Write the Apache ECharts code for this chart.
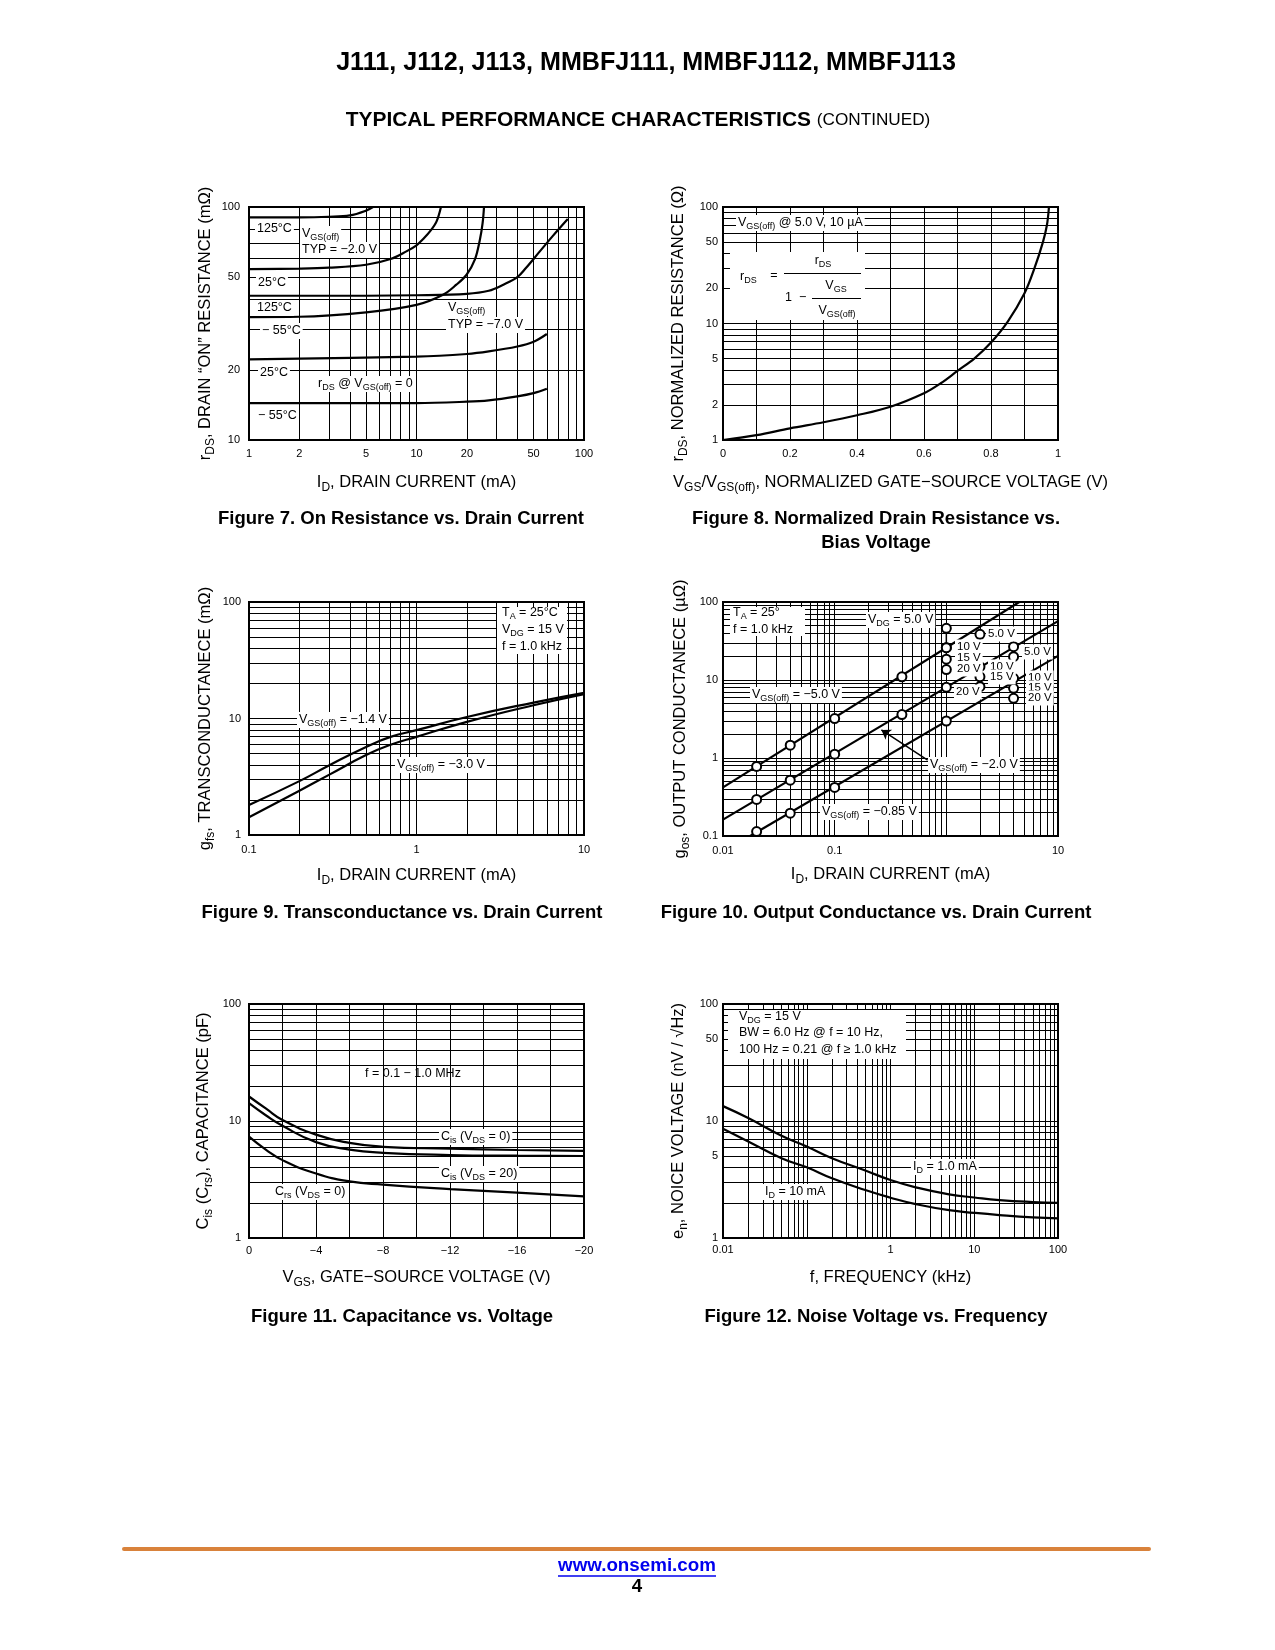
<!DOCTYPE html>
<html>
<head>
<meta charset="utf-8">
<title>J111 Typical Performance Characteristics</title>
<script src="https://cdn.jsdelivr.net/npm/echarts@6.0.0/dist/echarts.min.js"></script>
<style>
html,body{margin:0;padding:0;background:#fff;}
#chart{width:1275px;height:1650px;}
</style>
</head>
<body>
<div id="chart"></div>
<script>
// ===================== DATA =====================
// Figure 7 - On Resistance vs. Drain Current (ID mA, rDS mOhm)
const fig7XTicks = [1, 2, 5, 10, 20, 50, 100];
const fig7YTicks = [10, 20, 50, 100];
const fig7_125C_2V_id = [1, 2, 3, 4, 5, 5.5];
const fig7_125C_2V_r  = [90.3, 90.3, 90.8, 92.0, 96.5, 100];
const fig7_25C_2V_id  = [1, 2, 3, 5, 7, 8.7, 10, 11, 12.2, 13.2, 14];
const fig7_25C_2V_r   = [54.1, 54.4, 54.9, 56.5, 59.8, 64.5, 68.5, 73, 79.5, 87, 100];
const fig7_m55C_2V_id = [1, 2, 5, 10, 14.4, 17.3, 19.9, 22.3, 23.9, 24.8, 25.3];
const fig7_m55C_2V_r  = [33.7, 33.8, 35.3, 38.0, 42.0, 46.4, 51.2, 59.4, 72.4, 85, 100];
const fig7_125C_7V_id = [1, 5, 10, 20, 27, 33, 40, 45, 54, 65, 80];
const fig7_125C_7V_r  = [41.6, 41.6, 41.8, 42.4, 43.7, 46.4, 50, 54.7, 64, 75, 88.8];
const fig7_25C_7V_id  = [1, 10, 20, 27, 40, 50, 60];
const fig7_25C_7V_r   = [22.2, 22.8, 23.4, 24.0, 25.2, 26.4, 28.5];
const fig7_m55C_7V_id = [1, 10, 20, 27, 40, 50, 60];
const fig7_m55C_7V_r  = [14.4, 14.4, 14.6, 14.8, 15.4, 15.9, 16.6];

// Figure 8 - Normalized Drain Resistance vs. Bias Voltage
const fig8XTicks = [0, 0.2, 0.4, 0.6, 0.8, 1];
const fig8YTicks = [1, 2, 5, 10, 20, 50, 100];
const fig8_vn  = [0, 0.1, 0.2, 0.3, 0.4, 0.5, 0.6, 0.65, 0.7, 0.75, 0.8, 0.85, 0.9, 0.93, 0.955, 0.967, 0.973];
const fig8_rds = [1, 1.10, 1.26, 1.42, 1.63, 1.93, 2.52, 3.07, 3.92, 5.0, 6.87, 10.4, 18.2, 30, 50, 70, 100];

// Figure 9 - Transconductance vs. Drain Current
const fig9XTicks = [0.1, 1, 10];
const fig9YTicks = [1, 10, 100];
const fig9_id      = [0.1, 0.2, 0.3, 0.5, 0.7, 1, 2, 5, 10];
const fig9_gfs_1p4 = [1.81, 2.90, 3.95, 5.7, 6.95, 7.94, 10.3, 13.7, 16.6];
const fig9_gfs_3p0 = [1.42, 2.40, 3.28, 4.85, 5.95, 6.96, 9.36, 13.0, 16.2];

// Figure 10 - Output Conductance vs. Drain Current
const fig10XTicks = [0.01, 0.1, 10];
const fig10YTicks = [0.1, 1, 10, 100];
const fig10_5V_lineId   = [0.01, 4.5];
const fig10_5V_lineG    = [0.42, 100];
const fig10_2V_lineId   = [0.01, 10];
const fig10_2V_lineG    = [0.162, 56.8];
const fig10_085V_lineId = [0.0175, 10];
const fig10_085V_lineG  = [0.1, 20.4];
const fig10_5V_ptId   = [0.02, 0.04, 0.1, 0.4, 1];
const fig10_5V_ptG    = [0.78, 1.46, 3.2, 11.0, 26];
const fig10_2V_ptId   = [0.02, 0.04, 0.1, 0.4, 1];
const fig10_2V_ptG    = [0.294, 0.52, 1.12, 3.6, 8.05];
const fig10_085V_ptId = [0.02, 0.04, 0.1, 1];
const fig10_085V_ptG  = [0.114, 0.196, 0.42, 2.98];
const fig10_grpA_id = [1, 1, 1, 1];
const fig10_grpA_g  = [46, 26, 18.5, 13.6];
const fig10_grpB_id = [2, 2, 2, 2];
const fig10_grpB_g  = [38.5, 14.8, 11.0, 8.2];
const fig10_grpC_id = [4, 4, 4, 4, 4];
const fig10_grpC_g  = [26.7, 19.9, 10.5, 7.83, 5.82];
const fig10_arrowFrom = [0.68, 0.94];
const fig10_arrowTo   = [0.262, 2.29];

// Figure 11 - Capacitance vs. Voltage
const fig11XTicks = [0, -4, -8, -12, -16, -20];
const fig11YTicks = [1, 10, 100];
const fig11_vgs   = [0, -1, -2, -4, -6, -8, -12, -16, -20];
const fig11_cis0  = [16.2, 12.8, 10.2, 7.65, 6.5, 6.02, 5.8, 5.65, 5.55];
const fig11_cis20 = [14.2, 11.2, 9.1, 6.6, 5.7, 5.35, 5.12, 5.05, 5.02];
const fig11_crs0  = [7.35, 5.7, 4.63, 3.56, 3.05, 2.86, 2.62, 2.44, 2.27];

// Figure 12 - Noise Voltage vs. Frequency
const fig12XTicks = [0.01, 1, 10, 100];
const fig12YTicks = [1, 5, 10, 50, 100];
const fig12_f     = [0.01, 0.02, 0.05, 0.1, 0.2, 0.5, 1, 2, 5, 10, 20, 50, 100];
const fig12_en1mA  = [13.4, 10.6, 7.48, 6.06, 4.81, 3.77, 3.13, 2.71, 2.36, 2.22, 2.11, 2.03, 2.0];
const fig12_en10mA = [8.59, 6.69, 4.81, 4.02, 3.24, 2.57, 2.21, 1.95, 1.73, 1.64, 1.57, 1.50, 1.47];

// ===================== HELPERS =====================
const FONT = '"Liberation Sans", Arial, Helvetica, sans-serif';
const NARROW = '"Liberation Sans Narrow", "Arial Narrow", "Liberation Sans", Arial, sans-serif';

function richE(F) {
  const L = Math.round(F * 1.3), S = Math.round(F * 0.72), H = Math.round(F * 0.6);
  return {
    n: { fontSize: F, fontFamily: FONT, color: '#000', lineHeight: L },
    s: { fontSize: S, fontFamily: FONT, color: '#000', lineHeight: L, height: H, verticalAlign: 'bottom' }
  };
}
function richZ(F, bold) {
  const L = Math.round(F * 1.3), S = Math.round(F * 0.72), H = Math.round(F * 0.6);
  const w = bold ? 'bold' : 'normal';
  return {
    n: { fontSize: F, fontFamily: FONT, fontWeight: w, fill: '#000', lineHeight: L },
    s: { fontSize: S, fontFamily: FONT, fontWeight: w, fill: '#000', lineHeight: L, height: H, verticalAlign: 'bottom' }
  };
}
function T(x, y, text, o) {
  o = o || {};
  const F = o.size || 12.5;
  const st = {
    text: text,
    font: (o.bold ? 'bold ' : '') + F + 'px ' + FONT,
    fill: '#000',
    align: o.align || 'left',
    verticalAlign: 'middle',
    lineHeight: Math.round(F * 1.3),
    rich: o.rich || richZ(F, o.bold)
  };
  if (o.bg) { st.backgroundColor = '#fff'; st.padding = [0, 2, 0, 2]; }
  return { type: 'text', x: x, y: y, z: o.z || 50, silent: true, style: st };
}
function Ln(x1, y1, x2, y2, w, col) {
  return { type: 'line', z: 51, silent: true, shape: { x1: x1, y1: y1, x2: x2, y2: y2 },
    style: { stroke: col || '#000', lineWidth: w || 1 } };
}
function Rc(x, y, w, h) {
  return { type: 'rect', z: 45, silent: true, shape: { x: x, y: y, width: w, height: h }, style: { fill: '#fff' } };
}
function logLines(a, b) {
  const out = [];
  for (let e = a; e < b; e++) {
    for (let k = 1; k < 10; k++) {
      if (e === a && k === 1) continue;
      out.push(+(k * Math.pow(10, e)).toPrecision(6));
    }
  }
  return out;
}
function linLines(min, max, step) {
  const out = [];
  for (let v = min + step; v < max - step / 2; v += step) out.push(+v.toFixed(6));
  return out;
}
function gridSeries(i, xs, ys) {
  return {
    type: 'line', xAxisIndex: i, yAxisIndex: i, data: [], silent: true, animation: false,
    markLine: {
      silent: true, animation: false, symbol: ['none', 'none'], label: { show: false },
      lineStyle: { color: '#000', width: 1, type: 'solid', opacity: 1 },
      emphasis: { disabled: true },
      data: xs.map(v => ({ xAxis: v })).concat(ys.map(v => ({ yAxis: v })))
    }
  };
}
function curve(i, xs, ys, smooth, width) {
  return {
    type: 'line', xAxisIndex: i, yAxisIndex: i,
    data: xs.map((x, k) => [x, ys[k]]),
    symbol: 'none', showSymbol: false,
    smooth: smooth === undefined ? 0.5 : smooth,
    lineStyle: { color: '#000', width: width || 2.2 }, itemStyle: { color: '#000' },
    z: 8, silent: true, animation: false
  };
}
function markers(i, xs, ys) {
  return {
    type: 'scatter', xAxisIndex: i, yAxisIndex: i,
    data: xs.map((x, k) => [x, ys[k]]),
    symbol: 'circle', symbolSize: 9,
    itemStyle: { color: '#fff', borderColor: '#000', borderWidth: 2, opacity: 1 },
    z: 10, silent: true, animation: false
  };
}
function fmt(v) {
  if (Math.abs(v) < 1e-12) return '0';
  const r = +(+v).toPrecision(4);
  return r < 0 ? '\u2212' + Math.abs(r) : String(r);
}
const NAME_F = 16.5;
function axis(i, type, min, max, ticks, name, gap, margin, extra) {
  return Object.assign({
    gridIndex: i, type: type, min: min, max: max,
    axisLine: { show: false }, axisTick: { show: false }, splitLine: { show: false },
    minorTick: { show: false }, minorSplitLine: { show: false },
    axisLabel: { customValues: ticks, formatter: fmt, color: '#000', fontSize: 11, fontFamily: FONT, margin: margin },
    name: name, nameLocation: 'middle', nameGap: gap, nameMoveOverlap: false,
    nameTextStyle: { fontSize: NAME_F, fontFamily: FONT, color: '#000', lineHeight: Math.round(NAME_F * 1.3), rich: richE(NAME_F) }
  }, type === 'log' ? { logBase: 10 } : {}, extra || {});
}

// ===================== LAYOUT =====================
const grids = [
  { left: 249, top: 207, width: 335, height: 233 },
  { left: 723, top: 207, width: 335, height: 233 },
  { left: 249, top: 602, width: 335, height: 233 },
  { left: 723, top: 602, width: 335, height: 234 },
  { left: 249, top: 1004, width: 335, height: 234 },
  { left: 723, top: 1004, width: 335, height: 234 }
].map(g => Object.assign({ show: true, borderColor: '#000', borderWidth: 2, backgroundColor: 'transparent', containLabel: false, outerBoundsMode: 'none' }, g));

const ID_NAME = '{n|I}{s|D}{n|, DRAIN CURRENT (mA)}';
const xAxes = [
  axis(0, 'log', 1, 100, fig7XTicks, ID_NAME, 31.5, 8),
  axis(1, 'value', 0, 1, fig8XTicks, '{n|V}{s|GS}{n|/V}{s|GS(off)}{n|, NORMALIZED GATE\u2212SOURCE VOLTAGE (V)}', 31.5, 8),
  axis(2, 'log', 0.1, 10, fig9XTicks, ID_NAME, 29.5, 9),
  axis(3, 'log', 0.01, 10, fig10XTicks, ID_NAME, 27.5, 9),
  axis(4, 'value', -20, 0, fig11XTicks, '{n|V}{s|GS}{n|, GATE\u2212SOURCE VOLTAGE (V)}', 29, 7, { inverse: true }),
  axis(5, 'log', 0.01, 100, fig12XTicks, '{n|f, FREQUENCY (kHz)}', 29, 6)
];
const yAxes = [
  axis(0, 'log', 10, 100, fig7YTicks, '{n|r}{s|DS}{n|, DRAIN \u201CON\u201D RESISTANCE (m\u03A9)}', 33.5, 9),
  axis(1, 'log', 1, 100, fig8YTicks, '{n|r}{s|DS}{n|, NORMALIZED RESISTANCE (\u03A9)}', 34.5, 5),
  axis(2, 'log', 1, 100, fig9YTicks, '{n|g}{s|fs}{n|, TRANSCONDUCTANECE (m\u03A9)}', 33.5, 8),
  axis(3, 'log', 0.1, 100, fig10YTicks, '{n|g}{s|os}{n|, OUTPUT CONDUCTANECE (\u00B5\u03A9)}', 32.5, 5),
  axis(4, 'log', 1, 100, fig11YTicks, '{n|C}{s|is}{n| (C}{s|rs}{n|), CAPACITANCE (pF)}', 35.5, 8),
  axis(5, 'log', 1, 100, fig12YTicks, '{n|e}{s|n}{n|, NOICE VOLTAGE (nV / \u221AHz)}', 34.5, 5)
];

const series = [
  gridSeries(0, logLines(0, 2), logLines(1, 2)),
  gridSeries(1, linLines(0, 1, 0.1), logLines(0, 2)),
  gridSeries(2, logLines(-1, 1), logLines(0, 2)),
  gridSeries(3, logLines(-2, 1), logLines(-1, 2)),
  gridSeries(4, linLines(-20, 0, 2), logLines(0, 2)),
  gridSeries(5, logLines(-2, 2), logLines(0, 2)),
  // fig 7
  curve(0, fig7_125C_2V_id, fig7_125C_2V_r, 0.35),
  curve(0, fig7_25C_2V_id, fig7_25C_2V_r, 0.35),
  curve(0, fig7_m55C_2V_id, fig7_m55C_2V_r, 0.35),
  curve(0, fig7_125C_7V_id, fig7_125C_7V_r, 0.35),
  curve(0, fig7_25C_7V_id, fig7_25C_7V_r, 0.35),
  curve(0, fig7_m55C_7V_id, fig7_m55C_7V_r, 0.35),
  // fig 8
  curve(1, fig8_vn, fig8_rds, 0.35),
  // fig 9
  curve(2, fig9_id, fig9_gfs_1p4),
  curve(2, fig9_id, fig9_gfs_3p0),
  // fig 10
  curve(3, fig10_5V_lineId, fig10_5V_lineG, false),
  curve(3, fig10_2V_lineId, fig10_2V_lineG, false),
  curve(3, fig10_085V_lineId, fig10_085V_lineG, false),
  curve(3, [fig10_grpA_id[0], fig10_grpA_id[0]], [Math.max.apply(null, fig10_grpA_g), Math.min.apply(null, fig10_grpA_g)], false, 1.5),
  curve(3, [fig10_grpB_id[0], fig10_grpB_id[0]], [Math.max.apply(null, fig10_grpB_g), Math.min.apply(null, fig10_grpB_g)], false, 1.5),
  curve(3, [fig10_grpC_id[0], fig10_grpC_id[0]], [Math.max.apply(null, fig10_grpC_g), Math.min.apply(null, fig10_grpC_g)], false, 1.5),
  markers(3, fig10_5V_ptId.concat(fig10_2V_ptId, fig10_085V_ptId, fig10_grpA_id, fig10_grpB_id, fig10_grpC_id),
             fig10_5V_ptG.concat(fig10_2V_ptG, fig10_085V_ptG, fig10_grpA_g, fig10_grpB_g, fig10_grpC_g)),
  {
    type: 'line', xAxisIndex: 3, yAxisIndex: 3, data: [], silent: true, animation: false,
    markLine: {
      silent: true, animation: false, symbol: ['none', 'arrow'], symbolSize: 9, label: { show: false },
      lineStyle: { color: '#000', width: 1.5, type: 'solid' }, emphasis: { disabled: true },
      data: [[{ coord: fig10_arrowFrom }, { coord: fig10_arrowTo }]]
    }
  },
  // fig 11
  curve(4, fig11_vgs, fig11_cis0),
  curve(4, fig11_vgs, fig11_cis20),
  curve(4, fig11_vgs, fig11_crs0),
  // fig 12
  curve(5, fig12_f, fig12_en1mA),
  curve(5, fig12_f, fig12_en10mA)
];

// ===================== TEXT / GRAPHICS =====================
function fitSize(text, weight, family, target) {
  const c = document.createElement('canvas').getContext('2d');
  c.font = weight + ' 100px ' + family;
  return 100 * target / c.measureText(text).width;
}
const TITLE = 'J111, J112, J113, MMBFJ111, MMBFJ112, MMBFJ113';
const titleSize = fitSize(TITLE, 'bold', NARROW, 620);
const SUB_B = 'TYPICAL PERFORMANCE CHARACTERISTICS ';
const SUB_C = '(CONTINUED)';
const subSize = (function () {
  const c = document.createElement('canvas').getContext('2d');
  c.font = 'bold 100px ' + NARROW; const wb = c.measureText(SUB_B).width;
  c.font = 'normal 82px ' + NARROW; const wc = c.measureText(SUB_C).width;
  return 100 * 585 / (wb + wc);
})();
const URL = 'www.onsemi.com';
const urlSize = fitSize(URL, 'bold', NARROW, 158);

const g = [];
// page header
g.push(T(646, 63, '{t|' + TITLE + '}', { align: 'center', rich: { t: { fontSize: titleSize, fontFamily: NARROW, fontWeight: 'bold', fill: '#000' } } }));
g.push(T(638, 120, '{b|' + SUB_B + '}{c|' + SUB_C + '}', { align: 'center', rich: {
  b: { fontSize: subSize, fontFamily: NARROW, fontWeight: 'bold', fill: '#000' },
  c: { fontSize: subSize * 0.82, fontFamily: NARROW, fontWeight: 'normal', fill: '#000' } } }));

// Fig 7 annotations
g.push(T(255, 229, '{n|125\u00B0C}', { bg: true }));
g.push(T(300, 234, '{n|V}{s|GS(off)}', { bg: true }));
g.push(T(300, 250, '{n|TYP = \u22122.0 V}', { bg: true }));
g.push(T(256, 283, '{n|25\u00B0C}', { bg: true }));
g.push(T(255, 308, '{n|125\u00B0C}', { bg: true }));
g.push(T(260, 331, '{n|\u2212 55\u00B0C}', { bg: true }));
g.push(T(446, 308, '{n|V}{s|GS(off)}', { bg: true }));
g.push(T(446, 325, '{n|TYP = \u22127.0 V}', { bg: true }));
g.push(T(258, 373, '{n|25\u00B0C}', { bg: true }));
g.push(T(316, 384, '{n|r}{s|DS}{n| @ V}{s|GS(off)}{n| = 0}', { bg: true }));
g.push(T(256, 416, '{n|\u2212 55\u00B0C}', { bg: true }));

// Fig 8 annotations
g.push(T(736, 223, '{n|V}{s|GS(off)}{n| @ 5.0 V, 10 \u00B5A}', { bg: true }));
g.push(Rc(730, 252, 135, 68));
g.push(T(740, 277, '{n|r}{s|DS}'));
g.push(T(774, 276, '{n|=}', { align: 'center' }));
g.push(Ln(784, 273.5, 861, 273.5, 1));
g.push(T(823, 261, '{n|r}{s|DS}', { align: 'center' }));
g.push(T(785, 298, '{n|1  \u2212}'));
g.push(Ln(812, 298.5, 861, 298.5, 1));
g.push(T(836, 286, '{n|V}{s|GS}', { align: 'center' }));
g.push(T(837, 311, '{n|V}{s|GS(off)}', { align: 'center' }));

// Fig 9 annotations
g.push(Rc(497, 607, 70, 47));
g.push(T(502, 613, '{n|T}{s|A}{n| = 25\u00B0C}'));
g.push(T(502, 630, '{n|V}{s|DG}{n| = 15 V}'));
g.push(T(502, 647, '{n|f = 1.0 kHz}'));
g.push(T(297, 720, '{n|V}{s|GS(off)}{n| = \u22121.4 V}', { bg: true }));
g.push(T(395, 765, '{n|V}{s|GS(off)}{n| = \u22123.0 V}', { bg: true }));

// Fig 10 annotations
g.push(Rc(730, 607, 75, 29));
g.push(T(733, 613, '{n|T}{s|A}{n| = 25\u00B0}'));
g.push(T(733, 630, '{n|f = 1.0 kHz}'));
g.push(T(866, 620, '{n|V}{s|DG}{n| = 5.0 V}', { bg: true }));
g.push(T(750, 695, '{n|V}{s|GS(off)}{n| = \u22125.0 V}', { bg: true }));
g.push(T(928, 765, '{n|V}{s|GS(off)}{n| = \u22122.0 V}', { bg: true }));
g.push(T(820, 812, '{n|V}{s|GS(off)}{n| = \u22120.85 V}', { bg: true }));
const SM = { size: 11.5, bg: true };
g.push(T(986, 634, '{n|5.0 V}', SM));
g.push(T(955, 647, '{n|10 V}', SM));
g.push(T(955, 658, '{n|15 V}', SM));
g.push(T(955, 669, '{n|20 V}', SM));
g.push(T(988, 667, '{n|10 V}', SM));
g.push(T(988, 677, '{n|15 V}', SM));
g.push(T(954, 692, '{n|20 V}', SM));
g.push(T(1022, 652, '{n|5.0 V}', SM));
g.push(T(1026, 678, '{n|10 V}', SM));
g.push(T(1026, 688, '{n|15 V}', SM));
g.push(T(1026, 698, '{n|20 V}', SM));

// Fig 11 annotations
g.push(T(365, 1074, '{n|f = 0.1 \u2212 1.0 MHz}'));
g.push(T(439, 1137, '{n|C}{s|is}{n| (V}{s|DS}{n| = 0)}', { bg: true }));
g.push(T(439, 1174, '{n|C}{s|is}{n| (V}{s|DS}{n| = 20)}', { bg: true }));
g.push(T(273, 1192, '{n|C}{s|rs}{n| (V}{s|DS}{n| = 0)}', { bg: true }));

// Fig 12 annotations
g.push(Rc(728, 1010, 178, 49));
g.push(T(739, 1017, '{n|V}{s|DG}{n| = 15 V}'));
g.push(T(739, 1033, '{n|BW = 6.0 Hz @ f = 10 Hz,}'));
g.push(T(739, 1050, '{n|100 Hz = 0.21 @ f \u2265 1.0 kHz}'));
g.push(T(911, 1167, '{n|I}{s|D}{n| = 1.0 mA}', { bg: true }));
g.push(T(763, 1192, '{n|I}{s|D}{n| = 10 mA}', { bg: true }));

// captions
const CAP = { size: 18.5, bold: true, align: 'center' };
g.push(T(401, 519, '{n|Figure 7. On Resistance vs. Drain Current}', CAP));
g.push(T(876, 519, '{n|Figure 8. Normalized Drain Resistance vs.}', CAP));
g.push(T(876, 543, '{n|Bias Voltage}', CAP));
g.push(T(402, 913, '{n|Figure 9. Transconductance vs. Drain Current}', CAP));
g.push(T(876, 913, '{n|Figure 10. Output Conductance vs. Drain Current}', CAP));
g.push(T(402, 1317, '{n|Figure 11. Capacitance vs. Voltage}', CAP));
g.push(T(876, 1317, '{n|Figure 12. Noise Voltage vs. Frequency}', CAP));

// footer
g.push({ type: 'line', z: 51, silent: true, shape: { x1: 124, y1: 1549, x2: 1149, y2: 1549 },
  style: { stroke: '#D9823B', lineWidth: 4, lineCap: 'round' } });
g.push(T(637, 1566, '{u|' + URL + '}', { align: 'center', rich: { u: { fontSize: urlSize, fontFamily: NARROW, fontWeight: 'bold', fill: '#0000EE' } } }));
g.push(Ln(637 - 79, 1576, 637 + 79, 1576, 1.5, '#0000EE'));
g.push(T(637, 1587, '{p|4}', { align: 'center', rich: { p: { fontSize: urlSize, fontFamily: NARROW, fontWeight: 'bold', fill: '#000' } } }));

// ===================== CHART =====================
const chart = echarts.init(document.getElementById('chart'), null, { renderer: 'canvas', width: 1275, height: 1650 });
chart.setOption({
  animation: false,
  backgroundColor: '#fff',
  textStyle: { fontFamily: FONT },
  grid: grids,
  xAxis: xAxes,
  yAxis: yAxes,
  series: series,
  graphic: { elements: g }
});
</script>
</body>
</html>
